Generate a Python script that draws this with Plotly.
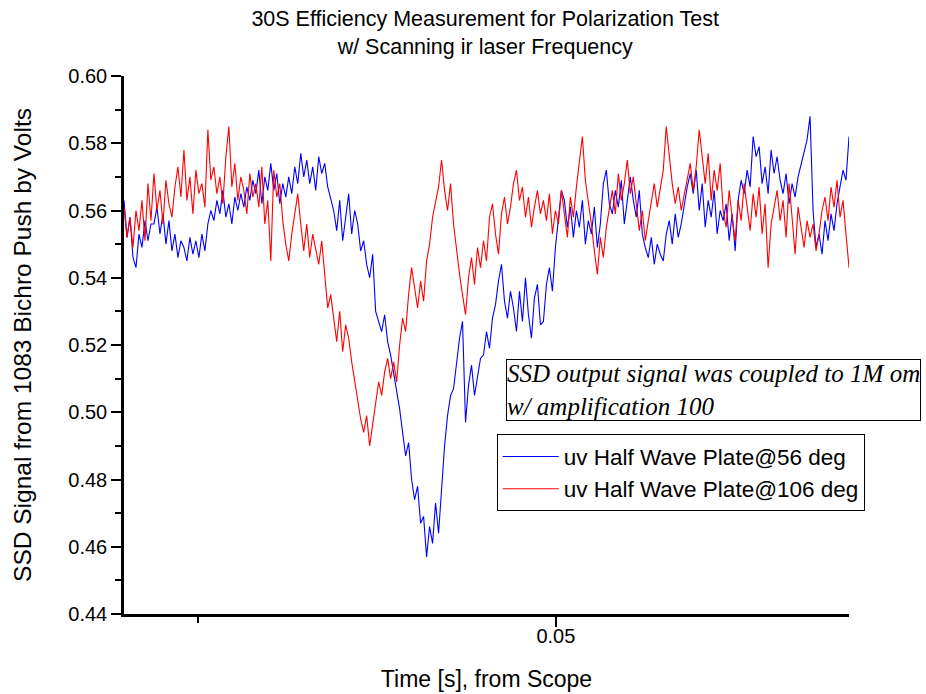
import numpy as np
import plotly.graph_objects as go

# Scope time window (s) and sample grid
t_start = 0.0198
t_end = 0.0705

# SSD signal (V), uv half wave plate at 56 deg
ssd_56deg = [
    0.563, 0.552, 0.558, 0.546, 0.543, 0.553, 0.549, 0.557, 0.551, 0.556,
    0.556, 0.561, 0.553, 0.559, 0.550, 0.557, 0.548, 0.553, 0.546, 0.551,
    0.549, 0.545, 0.552, 0.547, 0.551, 0.546, 0.553, 0.548, 0.556, 0.560,
    0.557, 0.563, 0.559, 0.566, 0.558, 0.562, 0.556, 0.564, 0.560, 0.565,
    0.561, 0.567, 0.563, 0.569, 0.565, 0.572, 0.562, 0.570, 0.566, 0.574,
    0.566, 0.571, 0.562, 0.568, 0.564, 0.570, 0.565, 0.573, 0.568, 0.577,
    0.570, 0.575, 0.568, 0.573, 0.566, 0.576, 0.571, 0.574, 0.567, 0.563,
    0.560, 0.554, 0.563, 0.551, 0.558, 0.565, 0.553, 0.560, 0.556, 0.548,
    0.551, 0.544, 0.540, 0.547, 0.530, 0.527, 0.524, 0.529, 0.521, 0.517,
    0.512, 0.506, 0.501, 0.494, 0.487, 0.491, 0.480, 0.474, 0.478, 0.467,
    0.469, 0.457, 0.466, 0.461, 0.473, 0.464, 0.478, 0.490, 0.499, 0.505,
    0.507, 0.514, 0.522, 0.527, 0.497, 0.508, 0.514, 0.505, 0.511, 0.516,
    0.517, 0.524, 0.519, 0.528, 0.532, 0.539, 0.544, 0.533, 0.528, 0.536,
    0.531, 0.524, 0.536, 0.527, 0.540, 0.529, 0.522, 0.534, 0.538, 0.526,
    0.527, 0.538, 0.543, 0.536, 0.549, 0.558, 0.566, 0.563, 0.555, 0.561,
    0.552, 0.560, 0.555, 0.563, 0.550, 0.557, 0.553, 0.561, 0.549, 0.556,
    0.568, 0.572, 0.562, 0.559, 0.566, 0.561, 0.569, 0.556, 0.564, 0.570,
    0.563, 0.558, 0.566, 0.553, 0.549, 0.546, 0.552, 0.544, 0.550, 0.547,
    0.545, 0.553, 0.557, 0.550, 0.559, 0.552, 0.556, 0.562, 0.567, 0.571,
    0.565, 0.572, 0.560, 0.568, 0.555, 0.563, 0.558, 0.566, 0.553, 0.560,
    0.557, 0.562, 0.551, 0.559, 0.548, 0.563, 0.569, 0.565, 0.572, 0.567,
    0.582, 0.576, 0.579, 0.568, 0.573, 0.565, 0.578, 0.571, 0.576, 0.569,
    0.565, 0.571, 0.562, 0.568, 0.564, 0.570, 0.574, 0.577, 0.581, 0.588,
    0.560, 0.549, 0.553, 0.547, 0.557, 0.551, 0.559, 0.554, 0.562, 0.567,
    0.572, 0.569, 0.582,
]

# SSD signal (V), uv half wave plate at 106 deg
ssd_106deg = [
    0.561, 0.552, 0.558, 0.549, 0.560, 0.554, 0.563, 0.551, 0.568, 0.557,
    0.571, 0.560, 0.566, 0.556, 0.569, 0.562, 0.558, 0.567, 0.573, 0.564,
    0.578, 0.563, 0.570, 0.559, 0.572, 0.565, 0.568, 0.561, 0.584, 0.569,
    0.573, 0.565, 0.570, 0.562, 0.576, 0.585, 0.567, 0.574, 0.563, 0.570,
    0.566, 0.559, 0.571, 0.564, 0.568, 0.561, 0.573, 0.556, 0.563, 0.545,
    0.572, 0.564, 0.568, 0.557, 0.550, 0.545, 0.553, 0.559, 0.565, 0.556,
    0.548, 0.556, 0.546, 0.553, 0.549, 0.544, 0.551, 0.540, 0.531, 0.535,
    0.527, 0.521, 0.530, 0.518, 0.526, 0.522, 0.515, 0.509, 0.503, 0.498,
    0.494, 0.499, 0.490, 0.496, 0.503, 0.509, 0.505, 0.512, 0.516, 0.510,
    0.515, 0.509, 0.520, 0.528, 0.524, 0.535, 0.543, 0.537, 0.531, 0.539,
    0.533, 0.545, 0.550, 0.558, 0.563, 0.567, 0.575, 0.566, 0.560, 0.568,
    0.556, 0.548, 0.541, 0.535, 0.529, 0.540, 0.546, 0.538, 0.549, 0.543,
    0.551, 0.545, 0.558, 0.562, 0.553, 0.547, 0.559, 0.564, 0.556, 0.561,
    0.568, 0.572, 0.563, 0.567, 0.558, 0.564, 0.555, 0.561, 0.566, 0.559,
    0.563, 0.557, 0.565, 0.553, 0.560, 0.556, 0.566, 0.559, 0.552, 0.564,
    0.558, 0.567, 0.574, 0.582, 0.569, 0.563, 0.556, 0.548, 0.541, 0.552,
    0.546, 0.555, 0.560, 0.566, 0.559, 0.571, 0.563, 0.568, 0.575, 0.565,
    0.570, 0.562, 0.554, 0.560, 0.551, 0.557, 0.563, 0.568, 0.561, 0.566,
    0.572, 0.585, 0.576, 0.568, 0.562, 0.567, 0.560, 0.565, 0.570, 0.574,
    0.566, 0.573, 0.584, 0.575, 0.568, 0.577, 0.563, 0.572, 0.566, 0.574,
    0.560, 0.555, 0.566, 0.558, 0.551, 0.563, 0.557, 0.568, 0.561, 0.554,
    0.565, 0.558, 0.567, 0.553, 0.562, 0.543, 0.556, 0.561, 0.566, 0.557,
    0.563, 0.552, 0.568, 0.558, 0.547, 0.561, 0.555, 0.549, 0.557, 0.552,
    0.556, 0.548, 0.553, 0.560, 0.564, 0.557, 0.567, 0.561, 0.569, 0.558,
    0.563, 0.552, 0.543,
]

series_names = ["uv Half Wave Plate@56 deg", "uv Half Wave Plate@106 deg"]
series_colors = ["#0000ff", "#ff0000"]

y_ticks = [0.44, 0.46, 0.48, 0.50, 0.52, 0.54, 0.56, 0.58, 0.60]
y_minor = [0.45, 0.47, 0.49, 0.51, 0.53, 0.55, 0.57, 0.59]
x_ticks = [0.05]
x_minor = [0.025, 0.075]

time = np.linspace(t_start, t_end, len(ssd_56deg))

fig = go.Figure()
for vals, name, color in zip([ssd_56deg, ssd_106deg], series_names, series_colors):
    fig.add_trace(go.Scatter(
        x=time, y=vals, mode="lines", name=name,
        line=dict(color=color, width=1.1),
    ))

sans = "Liberation Sans, Arial, sans-serif"

fig.update_layout(
    width=926, height=694,
    margin=dict(l=124, r=77, t=76, b=80),
    paper_bgcolor="white", plot_bgcolor="white",
    font=dict(family=sans, size=20, color="black"),
    title=dict(
        text="30S Efficiency Measurement for Polarization Test<br>w/ Scanning ir laser Frequency",
        x=0.524, xanchor="center", y=0.963, yanchor="top",
        font=dict(family=sans, size=21.5, color="black"),
    ),
    xaxis=dict(
        range=[t_start, t_end], automargin=False,
        tickmode="array", tickvals=x_ticks, ticktext=["0.05"],
        ticks="outside", ticklen=10, tickwidth=2, tickcolor="black",
        minor=dict(tickmode="array", tickvals=x_minor, ticks="outside",
                   ticklen=6, tickwidth=2, tickcolor="black"),
        showline=True, linecolor="black", linewidth=2.5,
        showgrid=False, zeroline=False,
        tickfont=dict(size=20),
        ticklabelstandoff=-8,
        title=dict(text="Time [s], from Scope", standoff=26, font=dict(size=23)),
    ),
    yaxis=dict(
        range=[0.44, 0.60], automargin=False,
        tickmode="array", tickvals=y_ticks,
        ticktext=[f"{v:.2f}" for v in y_ticks],
        ticks="outside", ticklen=10, tickwidth=2, tickcolor="black",
        minor=dict(tickmode="array", tickvals=y_minor, ticks="outside",
                   ticklen=6, tickwidth=2, tickcolor="black"),
        showline=True, linecolor="black", linewidth=2.5,
        showgrid=False, zeroline=False,
        tickfont=dict(size=20),
        title=dict(text="SSD Signal from 1083 Bichro Push by Volts", standoff=30,
                   font=dict(size=24.5)),
    ),
    legend=dict(
        x=0.514, y=0.334, xanchor="left", yanchor="top",
        bgcolor="white", bordercolor="black", borderwidth=1,
        font=dict(family=sans, size=22.5),
        itemwidth=56, tracegroupgap=0,
    ),
    showlegend=True,
)

fig.add_annotation(
    xref="paper", yref="paper", x=0.527, y=0.474,
    xanchor="left", yanchor="top", align="left", showarrow=False,
    text="<i>SSD output signal was coupled to 1M om<br>w/ amplification 100</i>",
    font=dict(family="Liberation Serif, Times New Roman, serif", size=25, color="black"),
    bordercolor="black", borderwidth=1, borderpad=0, bgcolor="white",
)

fig.write_html("out.html")
